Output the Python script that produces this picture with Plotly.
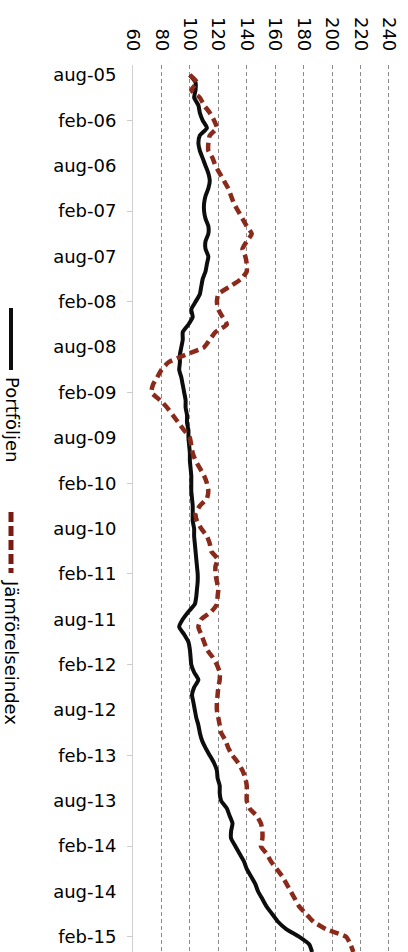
import plotly.graph_objects as go

# Month index 0 = aug-05, monthly observations
tick_labels = ["aug-05", "feb-06", "aug-06", "feb-07", "aug-07", "feb-08", "aug-08",
               "feb-09", "aug-09", "feb-10", "aug-10", "feb-11", "aug-11", "feb-12",
               "aug-12", "feb-13", "aug-13", "feb-14", "aug-14", "feb-15"]

portfolio = [100, 104, 104, 103, 106, 107, 109, 112, 107, 106,
             107, 109, 111, 113, 114, 113, 111, 110, 110, 111,
             113, 113, 111, 111, 113, 112, 111, 109, 108, 107,
             104, 101, 102, 99, 95, 95, 94, 93, 93, 92.5,
             94, 95, 96, 97, 97, 98, 98, 99, 99, 99.5,
             100, 100, 100.5, 101, 101, 101, 101.5, 102, 102, 102,
             103, 103, 103.5, 104, 104.5, 105, 105.5, 105.5, 105, 104.5,
             103.5, 99, 95, 92.5, 96, 99, 100, 100.5, 101, 103,
             106, 103, 101.5, 102.5, 103.5, 104.5, 106, 107, 108.5, 111,
             114, 117, 119, 119.5, 121, 121, 122, 126, 128, 130,
             129, 129, 132, 135, 138, 140, 143, 146, 148, 151,
             154, 158, 162, 168, 177, 184, 186]

benchmark = [100, 105, 101, 107, 110, 114, 117, 119, 114, 113,
             113, 116, 118, 121, 124, 127, 129, 131, 134, 137,
             140, 143.5, 140, 137, 139, 140, 140, 136, 128, 120,
             119, 120, 123, 126, 118, 114, 110, 97, 85, 80,
             77, 74, 73, 79, 84, 88, 92, 96, 100, 101,
             102, 104, 107, 110, 112, 113, 112, 107, 104, 105,
             108, 112, 114, 115, 119.5, 118, 118, 119, 120, 119.5,
             119, 115, 108, 106, 108, 110, 112, 116, 119, 121,
             121, 120, 119.5, 119, 119, 120, 121, 122, 125, 127,
             130, 134, 137, 139, 140, 140, 140, 142, 147, 150,
             151, 151, 150, 154, 157, 161, 165, 168, 171, 174,
             177, 182, 187, 196, 210, 213, 215]

x_ticks = [60, 80, 100, 120, 140, 160, 180, 200, 220, 240]
series_names = ["Portföljen", "Jämförelseindex"]

months = list(range(len(portfolio)))
label_pos = list(range(0, 6 * len(tick_labels), 6))
feb_pos = label_pos[1::2]

W, H = 408, 952
ML, MR, MT, MB = 133, 12, 65, 0
PW, PH = W - ML - MR, H - MT - MB


def px(xp):
    return (xp - ML) / PW


def py(yp):
    return 1 - (yp - MT) / PH


RED = "#8a2a1b"

fig = go.Figure()
fig.add_trace(go.Scatter(x=portfolio, y=months, mode="lines", name=series_names[0],
                         line=dict(color="#0d0d0d", width=4, shape="spline", smoothing=0.5),
                         showlegend=False))
fig.add_trace(go.Scatter(x=benchmark, y=months, mode="lines", name=series_names[1],
                         line=dict(color=RED, width=4.5, dash="9px,5px", shape="spline", smoothing=0.5),
                         showlegend=False))
fig.add_trace(go.Scatter(x=[None], y=[None], yaxis="y2", showlegend=False, hoverinfo="skip"))

font = dict(family="DejaVu Sans, Verdana, sans-serif", size=18, color="#000000")

fig.update_layout(
    width=W, height=H,
    margin=dict(l=ML, r=MR, t=MT, b=MB, pad=0),
    paper_bgcolor="white", plot_bgcolor="white",
    font=font,
    xaxis=dict(side="top", range=[60, 245], tickvals=x_ticks, tickangle=90,
               showgrid=True, gridcolor="#8a8a8a", gridwidth=1, griddash="4px,3px",
               zeroline=False, showline=False, ticks="", ticklabelstandoff=10,
               tickfont=font),
    yaxis=dict(range=[116.0, -1.32], tickvals=label_pos, ticktext=tick_labels,
               showgrid=False, zeroline=False, showline=True, linecolor="#d0d0d0",
               linewidth=1, ticks="", ticklabelstandoff=12, tickfont=font),
    yaxis2=dict(overlaying="y", side="left", anchor="x", range=[116.0, -1.32],
                tickvals=feb_pos, showticklabels=False, ticks="outside", ticklen=5,
                tickcolor="#cccccc", showgrid=False, zeroline=False, showline=False),
)

# Rotated legend drawn at the left edge
fig.add_shape(type="line", xref="paper", yref="paper", x0=px(11), x1=px(11),
              y0=py(308), y1=py(370), line=dict(color="#0d0d0d", width=4))
fig.add_shape(type="line", xref="paper", yref="paper", x0=px(11), x1=px(11),
              y0=py(512), y1=py(573), line=dict(color="#7b1a12", width=5, dash="10px,4px"))
fig.add_annotation(text=series_names[0], xref="paper", yref="paper", x=px(12), y=py(420),
                   textangle=90, showarrow=False, xanchor="center", yanchor="middle", font=font)
fig.add_annotation(text=series_names[1], xref="paper", yref="paper", x=px(12), y=py(652),
                   textangle=90, showarrow=False, xanchor="center", yanchor="middle", font=font)

fig.write_html("out.html")
